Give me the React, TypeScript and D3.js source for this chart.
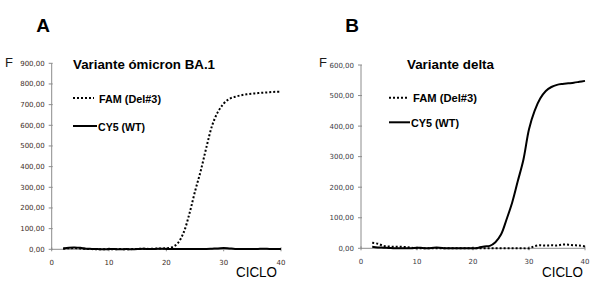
import React from "react";
import * as d3 from "d3";

const cycles = d3.range(2, 41);

// Panel A (Variante ómicron BA.1)
const famA = [3, 5, 6, 4, 2, 1, 0, 0, 0, 0, 1, 0, 1, 2, 3, 2, 3, 4, 5, 10, 30, 80, 170, 280, 380, 495, 600, 665, 705, 728, 738, 745, 750, 753, 756, 758, 760, 762, 762];
const cy5A = [4, 8, 9, 7, 3, 2, 1, 0, 1, 1, 0, 1, 0, 1, 3, 1, 2, 3, 2, 1, 1, 2, 1, 1, 2, 2, 3, 4, 6, 4, 2, 1, 1, 1, 2, 3, 2, 2, 2];
const yTicksA = [0, 100, 200, 300, 400, 500, 600, 700, 800, 900];

// Panel B (Variante delta)
const famB = [18, 15, 8, 6, 5, 5, 4, 2, 0, 0, 0, 0, 0, 0, 0, 0, 0, 0, 0, 0, 0, 0, 0, 0, 0, 0, 0, 0, 0, 7, 10, 9, 10, 9, 12, 12, 10, 9, 6];
const cy5B = [5, 3, 2, 1, 0, 0, 0, 0, 2, 1, 0, 2, 2, 0, 0, 0, 0, 0, 0, 2, 6, 8, 20, 45, 95, 150, 220, 290, 390, 450, 490, 515, 528, 535, 538, 540, 542, 545, 548];
const yTicksB = [0, 100, 200, 300, 400, 500, 600];

const xTicks = [0, 10, 20, 30, 40];
const seriesNames = ["FAM (Del#3)", "CY5 (WT)"];

const fmt = (v: number) => v.toFixed(2).replace(".", ",");

type PanelProps = {
  letter: string;
  letterX: number;
  title: string;
  titleX: number;
  titleW: number;
  fX: number;
  x0: number;
  x1: number;
  yTop: number;
  yBot: number;
  yMax: number;
  yTicks: number[];
  fam: number[];
  cy5: number[];
  legX: number;
  famLineW: number;
  cyLineW: number;
  famTextW: number;
  cyTextW: number;
  legY1: number;
  legY2: number;
  cicloX: number;
  labelColor: string;
};

function Panel(p: PanelProps) {
  const x = d3.scaleLinear().domain([0, 40]).range([p.x0, p.x1]);
  const y = d3.scaleLinear().domain([0, p.yMax]).range([p.yBot, p.yTop]);
  const line = d3
    .line<number>()
    .x((_, i) => x(cycles[i]))
    .y((d) => y(d))
    .curve(d3.curveCatmullRom);
  const axisColor = "#8c8c8c";
  const tickFont = "DejaVu Sans, Verdana, sans-serif";
  const boldFont = "Liberation Sans, Arial, sans-serif";
  return (
    <g>
      <text x={p.letterX} y={32} fontFamily={boldFont} fontWeight="bold" fontSize={19} textAnchor="middle" fill="#000">
        {p.letter}
      </text>
      <text x={p.fX} y={67} fontFamily={boldFont} fontSize={13} fill="#1a1a1a">
        F
      </text>
      <text x={p.titleX} y={69} fontFamily={boldFont} fontWeight="bold" fontSize={13} textLength={p.titleW} lengthAdjust="spacingAndGlyphs" fill="#000">
        {p.title}
      </text>
      {/* y axis */}
      <line x1={p.x0} x2={p.x0} y1={p.yTop} y2={p.yBot} stroke={axisColor} strokeWidth={1} />
      {p.yTicks.map((t) => (
        <g key={t}>
          <line x1={p.x0 - 3} x2={p.x0 + 1} y1={y(t)} y2={y(t)} stroke={axisColor} strokeWidth={1} />
          <text x={p.x0 - 7} y={y(t) + 2.5} fontFamily={tickFont} fontSize={7} textAnchor="end" fill={p.labelColor}>
            {fmt(t)}
          </text>
        </g>
      ))}
      {/* x axis */}
      <line x1={p.x0} x2={p.x1} y1={p.yBot} y2={p.yBot} stroke={axisColor} strokeWidth={1} />
      {xTicks.map((t) => (
        <g key={t}>
          <line x1={x(t)} x2={x(t)} y1={p.yBot - 2} y2={p.yBot + 2} stroke={axisColor} strokeWidth={1} />
          <text x={x(t)} y={p.yBot + 16} fontFamily={tickFont} fontSize={7} textAnchor="middle" fill={p.labelColor}>
            {t}
          </text>
        </g>
      ))}
      <text x={p.cicloX} y={277} fontFamily={boldFont} fontSize={14} textLength={41} lengthAdjust="spacingAndGlyphs" fill="#000">
        CICLO
      </text>
      {/* series */}
      <path d={line(p.cy5) || ""} fill="none" stroke="#000" strokeWidth={2} />
      <path d={line(p.fam) || ""} fill="none" stroke="#000" strokeWidth={2} strokeDasharray="2,2" />
      {/* legend */}
      <line x1={p.legX} x2={p.legX + p.famLineW} y1={p.legY1} y2={p.legY1} stroke="#000" strokeWidth={2} strokeDasharray="2,2" />
      <text x={p.legX + p.famLineW + 5} y={p.legY1 + 4.5} fontFamily={boldFont} fontWeight="bold" fontSize={11} textLength={p.famTextW} lengthAdjust="spacingAndGlyphs" fill="#000">
        {seriesNames[0]}
      </text>
      <line x1={p.legX} x2={p.legX + p.cyLineW} y1={p.legY2} y2={p.legY2} stroke="#000" strokeWidth={2} />
      <text x={p.legX + p.cyLineW + 1} y={p.legY2 + 4.5} fontFamily={boldFont} fontWeight="bold" fontSize={11} textLength={p.cyTextW} lengthAdjust="spacingAndGlyphs" fill="#000">
        {seriesNames[1]}
      </text>
    </g>
  );
}

export default function App() {
  return (
    <svg
      width={596}
      height={285}
      style={{ position: "absolute", left: 0, top: 0, background: "#fff" }}
    >
      <rect width={596} height={285} fill="#fff" />
      <Panel
        letter="A"
        letterX={43}
        title="Variante ómicron BA.1"
        titleX={73}
        titleW={142}
        fX={5}
        x0={51.7}
        x1={281}
        yTop={63.3}
        yBot={249.3}
        yMax={900}
        yTicks={yTicksA}
        fam={famA}
        cy5={cy5A}
        legX={73}
        famLineW={21}
        cyLineW={24}
        famTextW={62}
        cyTextW={47}
        legY1={98}
        legY2={126}
        cicloX={236}
        labelColor="#3d2e26"
      />
      <Panel
        letter="B"
        letterX={352}
        title="Variante delta"
        titleX={407}
        titleW={87}
        fX={319}
        x0={361}
        x1={585}
        yTop={65}
        yBot={248.3}
        yMax={600}
        yTicks={yTicksB}
        fam={famB}
        cy5={cy5B}
        legX={389}
        famLineW={19}
        cyLineW={21}
        famTextW={64}
        cyTextW={48}
        legY1={97.7}
        legY2={122.3}
        cicloX={542}
        labelColor="#3a3a44"
      />
    </svg>
  );
}
